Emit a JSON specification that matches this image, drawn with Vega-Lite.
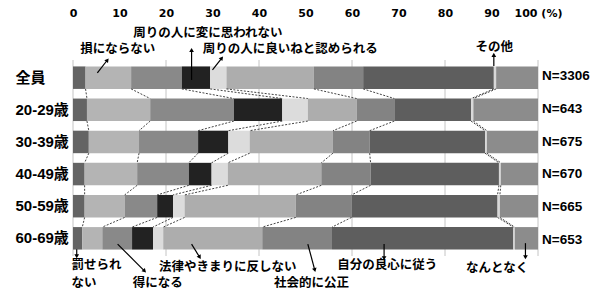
{
  "$schema": "https://vega.github.io/schema/vega-lite/v6.json",
  "width": 465,
  "height": 196,
  "autosize": "none",
  "padding": {"left": 73, "top": 60, "right": 62, "bottom": 44},
  "background": "#ffffff",
  "config": {"view": {"stroke": null}, "font": "Noto Sans CJK JP"},
  "datasets": {
    "d": [
      {"g": "全員", "gi": 0, "c": "罰せられない", "k": 1, "v": 2.7},
      {"g": "全員", "gi": 0, "c": "損にならない", "k": 2, "v": 9.8},
      {"g": "全員", "gi": 0, "c": "得になる", "k": 3, "v": 10.9},
      {"g": "全員", "gi": 0, "c": "周りの人に変に思われない", "k": 4, "v": 6.1},
      {"g": "全員", "gi": 0, "c": "周りの人に良いねと認められる", "k": 5, "v": 3.5},
      {"g": "全員", "gi": 0, "c": "法律やきまりに反しない", "k": 6, "v": 18.8},
      {"g": "全員", "gi": 0, "c": "社会的に公正", "k": 7, "v": 10.6},
      {"g": "全員", "gi": 0, "c": "自分の良心に従う", "k": 8, "v": 28.1},
      {"g": "全員", "gi": 0, "c": "その他", "k": 9, "v": 0.5},
      {"g": "全員", "gi": 0, "c": "なんとなく", "k": 10, "v": 9.0},
      {"g": "20-29歳", "gi": 1, "c": "罰せられない", "k": 1, "v": 3.0},
      {"g": "20-29歳", "gi": 1, "c": "損にならない", "k": 2, "v": 13.6},
      {"g": "20-29歳", "gi": 1, "c": "得になる", "k": 3, "v": 18.0},
      {"g": "20-29歳", "gi": 1, "c": "周りの人に変に思われない", "k": 4, "v": 10.4},
      {"g": "20-29歳", "gi": 1, "c": "周りの人に良いねと認められる", "k": 5, "v": 5.5},
      {"g": "20-29歳", "gi": 1, "c": "法律やきまりに反しない", "k": 6, "v": 10.5},
      {"g": "20-29歳", "gi": 1, "c": "社会的に公正", "k": 7, "v": 8.1},
      {"g": "20-29歳", "gi": 1, "c": "自分の良心に従う", "k": 8, "v": 16.5},
      {"g": "20-29歳", "gi": 1, "c": "その他", "k": 9, "v": 0.5},
      {"g": "20-29歳", "gi": 1, "c": "なんとなく", "k": 10, "v": 13.9},
      {"g": "30-39歳", "gi": 2, "c": "罰せられない", "k": 1, "v": 3.4},
      {"g": "30-39歳", "gi": 2, "c": "損にならない", "k": 2, "v": 10.8},
      {"g": "30-39歳", "gi": 2, "c": "得になる", "k": 3, "v": 12.7},
      {"g": "30-39歳", "gi": 2, "c": "周りの人に変に思われない", "k": 4, "v": 6.5},
      {"g": "30-39歳", "gi": 2, "c": "周りの人に良いねと認められる", "k": 5, "v": 4.6},
      {"g": "30-39歳", "gi": 2, "c": "法律やきまりに反しない", "k": 6, "v": 17.9},
      {"g": "30-39歳", "gi": 2, "c": "社会的に公正", "k": 7, "v": 7.9},
      {"g": "30-39歳", "gi": 2, "c": "自分の良心に従う", "k": 8, "v": 24.8},
      {"g": "30-39歳", "gi": 2, "c": "その他", "k": 9, "v": 0.4},
      {"g": "30-39歳", "gi": 2, "c": "なんとなく", "k": 10, "v": 11.0},
      {"g": "40-49歳", "gi": 3, "c": "罰せられない", "k": 1, "v": 2.5},
      {"g": "40-49歳", "gi": 3, "c": "損にならない", "k": 2, "v": 11.3},
      {"g": "40-49歳", "gi": 3, "c": "得になる", "k": 3, "v": 11.1},
      {"g": "40-49歳", "gi": 3, "c": "周りの人に変に思われない", "k": 4, "v": 4.9},
      {"g": "40-49歳", "gi": 3, "c": "周りの人に良いねと認められる", "k": 5, "v": 3.5},
      {"g": "40-49歳", "gi": 3, "c": "法律やきまりに反しない", "k": 6, "v": 20.1},
      {"g": "40-49歳", "gi": 3, "c": "社会的に公正", "k": 7, "v": 10.6},
      {"g": "40-49歳", "gi": 3, "c": "自分の良心に従う", "k": 8, "v": 27.6},
      {"g": "40-49歳", "gi": 3, "c": "その他", "k": 9, "v": 0.4},
      {"g": "40-49歳", "gi": 3, "c": "なんとなく", "k": 10, "v": 8.0},
      {"g": "50-59歳", "gi": 4, "c": "罰せられない", "k": 1, "v": 2.5},
      {"g": "50-59歳", "gi": 4, "c": "損にならない", "k": 2, "v": 8.6},
      {"g": "50-59歳", "gi": 4, "c": "得になる", "k": 3, "v": 7.0},
      {"g": "50-59歳", "gi": 4, "c": "周りの人に変に思われない", "k": 4, "v": 3.4},
      {"g": "50-59歳", "gi": 4, "c": "周りの人に良いねと認められる", "k": 5, "v": 2.5},
      {"g": "50-59歳", "gi": 4, "c": "法律やきまりに反しない", "k": 6, "v": 23.9},
      {"g": "50-59歳", "gi": 4, "c": "社会的に公正", "k": 7, "v": 12.0},
      {"g": "50-59歳", "gi": 4, "c": "自分の良心に従う", "k": 8, "v": 31.4},
      {"g": "50-59歳", "gi": 4, "c": "その他", "k": 9, "v": 0.5},
      {"g": "50-59歳", "gi": 4, "c": "なんとなく", "k": 10, "v": 8.2},
      {"g": "60-69歳", "gi": 5, "c": "罰せられない", "k": 1, "v": 2.0},
      {"g": "60-69歳", "gi": 5, "c": "損にならない", "k": 2, "v": 4.3},
      {"g": "60-69歳", "gi": 5, "c": "得になる", "k": 3, "v": 6.4},
      {"g": "60-69歳", "gi": 5, "c": "周りの人に変に思われない", "k": 4, "v": 4.5},
      {"g": "60-69歳", "gi": 5, "c": "周りの人に良いねと認められる", "k": 5, "v": 2.2},
      {"g": "60-69歳", "gi": 5, "c": "法律やきまりに反しない", "k": 6, "v": 21.3},
      {"g": "60-69歳", "gi": 5, "c": "社会的に公正", "k": 7, "v": 15.0},
      {"g": "60-69歳", "gi": 5, "c": "自分の良心に従う", "k": 8, "v": 39.0},
      {"g": "60-69歳", "gi": 5, "c": "その他", "k": 9, "v": 0.3},
      {"g": "60-69歳", "gi": 5, "c": "なんとなく", "k": 10, "v": 5.0}
    ],
    "ns": [
      {"g": "全員", "n": "N=3306"},
      {"g": "20-29歳", "n": "N=643"},
      {"g": "30-39歳", "n": "N=675"},
      {"g": "40-49歳", "n": "N=670"},
      {"g": "50-59歳", "n": "N=665"},
      {"g": "60-69歳", "n": "N=653"}
    ],
    "grid": [{"p": 0}, {"p": 20}, {"p": 40}, {"p": 60}, {"p": 80}, {"p": 100}],
    "ann": [
      {"t": "損にならない", "x": 9.6, "y": -0.89},
      {"t": "周りの人に変に思われない", "x": 29.0, "y": -1.39},
      {"t": "周りの人に良いねと認められる", "x": 46.7, "y": -0.89},
      {"t": "その他", "x": 90.6, "y": -0.95},
      {"t": "得になる", "x": 18.2, "y": 6.4},
      {"t": "法律やきまりに反しない", "x": 33.3, "y": 5.9},
      {"t": "社会的に公正", "x": 51.3, "y": 6.4},
      {"t": "自分の良心に従う", "x": 67.6, "y": 5.84},
      {"t": "なんとなく", "x": 91.2, "y": 5.93}
    ],
    "ann2": [
      {"t": "罰せられ\nない", "x": -0.3, "y": 5.64}
    ],
    "arr": [
      {"x": 5.24, "y": -0.15, "x2": 7.4, "y2": -0.55},
      {"x": 25.5, "y": 0.07, "x2": 25.5, "y2": -0.86},
      {"x": 30.0, "y": -0.24, "x2": 32.0, "y2": -0.61},
      {"x": 90.5, "y": -0.36, "x2": 90.5, "y2": -0.71},
      {"x": 0.8, "y": 5.34, "x2": 0.8, "y2": 5.56},
      {"x": 9.6, "y": 5.18, "x2": 15.4, "y2": 6.02},
      {"x": 25.5, "y": 5.18, "x2": 27.25, "y2": 5.59},
      {"x": 50.5, "y": 5.18, "x2": 52.0, "y2": 5.99},
      {"x": 66.9, "y": 5.18, "x2": 66.9, "y2": 5.62},
      {"x": 97.3, "y": 5.15, "x2": 97.3, "y2": 5.59}
    ]
  },
  "layer": [
    {
      "data": {"name": "grid"},
      "mark": {"type": "rule", "stroke": "#c4c4c4", "strokeWidth": 1},
      "encoding": {
        "x": {"field": "p", "type": "quantitative", "scale": {"domain": [0, 100], "nice": false}, "axis": {"title": null, "orient": "top", "values": [0, 10, 20, 30, 40, 50, 60, 70, 80, 90, 100], "labelOverlap": false, "labelFlush": false, "labelExpr": "datum.value == 100 ? '100 (%)' : datum.label", "labelFont": "DejaVu Sans", "labelFontWeight": "bold", "labelFontSize": 11, "labelColor": "#000000", "offset": 40, "labelPadding": 2, "ticks": false, "domain": false, "grid": false}}
      }
    },
    {
      "data": {"name": "d"},
      "mark": {"type": "bar"},
      "encoding": {
        "y": {
          "field": "g", "type": "nominal",
          "scale": {"domain": ["全員", "20-29歳", "30-39歳", "40-49歳", "50-59歳", "60-69歳"], "paddingInner": 0.3, "paddingOuter": 0.2},
          "axis": {"title": null, "labelAlign": "left", "labelPadding": 58, "ticks": false, "domain": false, "grid": false, "labelFont": "Liberation Sans, Noto Sans CJK JP", "labelFontWeight": "bold", "labelFontSize": 15, "labelColor": "#000000"}
        },
        "x": {
          "field": "v", "type": "quantitative", "stack": "zero",
          "scale": {"domain": [0, 100], "nice": false}
        },
        "color": {
          "field": "c", "type": "nominal",
          "scale": {
            "domain": ["罰せられない", "損にならない", "得になる", "周りの人に変に思われない", "周りの人に良いねと認められる", "法律やきまりに反しない", "社会的に公正", "自分の良心に従う", "その他", "なんとなく"],
            "range": ["#646464", "#b4b4b4", "#898989", "#222222", "#dcdcdc", "#adadad", "#838383", "#5e5e5e", "#d8d8d8", "#8c8c8c"]
          },
          "legend": null
        },
        "order": {"field": "k", "type": "quantitative"}
      }
    },
    {
      "data": {"name": "d"},
      "transform": [
        {"window": [{"op": "sum", "field": "v", "as": "cum"}], "groupby": ["g"], "sort": [{"field": "k"}], "frame": [null, 0]},
        {"window": [{"op": "lead", "field": "cum", "as": "cum2"}, {"op": "lead", "field": "g", "as": "g2"}], "groupby": ["c"], "sort": [{"field": "gi"}], "frame": [null, null]},
        {"filter": "datum.g2 != null && datum.k < 10"}
      ],
      "mark": {"type": "rule", "stroke": "#444444", "strokeWidth": 1, "strokeDash": [2, 1.5]},
      "encoding": {
        "x": {"field": "cum", "type": "quantitative", "scale": {"domain": [0, 100], "nice": false}},
        "x2": {"field": "cum2"},
        "y": {"field": "g", "type": "nominal", "bandPosition": 1, "scale": {"domain": ["全員", "20-29歳", "30-39歳", "40-49歳", "50-59歳", "60-69歳"], "paddingInner": 0.3, "paddingOuter": 0.2}, "axis": null},
        "y2": {"field": "g2", "bandPosition": 0}
      }
    },
    {
      "data": {"name": "ns"},
      "mark": {"type": "text", "align": "left", "dx": 4, "font": "Liberation Sans", "fontWeight": "bold", "fontSize": 13.5, "color": "#000000"},
      "encoding": {
        "y": {"field": "g", "type": "nominal", "scale": {"domain": ["全員", "20-29歳", "30-39歳", "40-49歳", "50-59歳", "60-69歳"], "paddingInner": 0.3, "paddingOuter": 0.2}, "axis": null},
        "x": {"datum": 100, "type": "quantitative", "scale": {"domain": [0, 100], "nice": false}},
        "text": {"field": "n"}
      }
    },
    {
      "data": {"name": "ann"},
      "mark": {"type": "text", "font": "Noto Sans CJK JP", "fontWeight": "bold", "fontSize": 12.5, "baseline": "middle", "color": "#000000"},
      "encoding": {
        "x": {"field": "x", "type": "quantitative", "scale": {"domain": [0, 100], "nice": false}},
        "y": {"field": "y", "type": "quantitative", "scale": {"domain": [-0.55, 5.55], "reverse": true, "nice": false, "zero": false}, "axis": null},
        "text": {"field": "t"}
      }
    },
    {
      "data": {"name": "ann2"},
      "mark": {"type": "text", "font": "Noto Sans CJK JP", "fontWeight": "bold", "fontSize": 12.5, "baseline": "top", "align": "left", "lineBreak": "\n", "lineHeight": 18, "color": "#000000"},
      "encoding": {
        "x": {"field": "x", "type": "quantitative", "scale": {"domain": [0, 100], "nice": false}},
        "y": {"field": "y", "type": "quantitative", "scale": {"domain": [-0.55, 5.55], "reverse": true, "nice": false, "zero": false}, "axis": null},
        "text": {"field": "t"}
      }
    },
    {
      "data": {"name": "arr"},
      "mark": {"type": "rule", "stroke": "#000000", "strokeWidth": 1.2},
      "encoding": {
        "x": {"field": "x", "type": "quantitative", "scale": {"domain": [0, 100], "nice": false}},
        "x2": {"field": "x2"},
        "y": {"field": "y", "type": "quantitative", "scale": {"domain": [-0.55, 5.55], "reverse": true, "nice": false, "zero": false}, "axis": null},
        "y2": {"field": "y2"}
      }
    },
    {
      "data": {"name": "arr"},
      "transform": [
        {"calculate": "atan2((datum.x2 - datum.x) * 4.65, (datum.y - datum.y2) * 32.1) * 180 / PI", "as": "ang"}
      ],
      "mark": {"type": "point", "shape": "triangle-up", "filled": true, "size": 22, "color": "#000000", "opacity": 1},
      "encoding": {
        "x": {"field": "x2", "type": "quantitative", "scale": {"domain": [0, 100], "nice": false}},
        "y": {"field": "y2", "type": "quantitative", "scale": {"domain": [-0.55, 5.55], "reverse": true, "nice": false, "zero": false}, "axis": null},
        "angle": {"field": "ang", "type": "quantitative", "scale": null}
      }
    }
  ],
  "resolve": {"scale": {"y": "independent"}, "axis": {"y": "independent"}}
}
